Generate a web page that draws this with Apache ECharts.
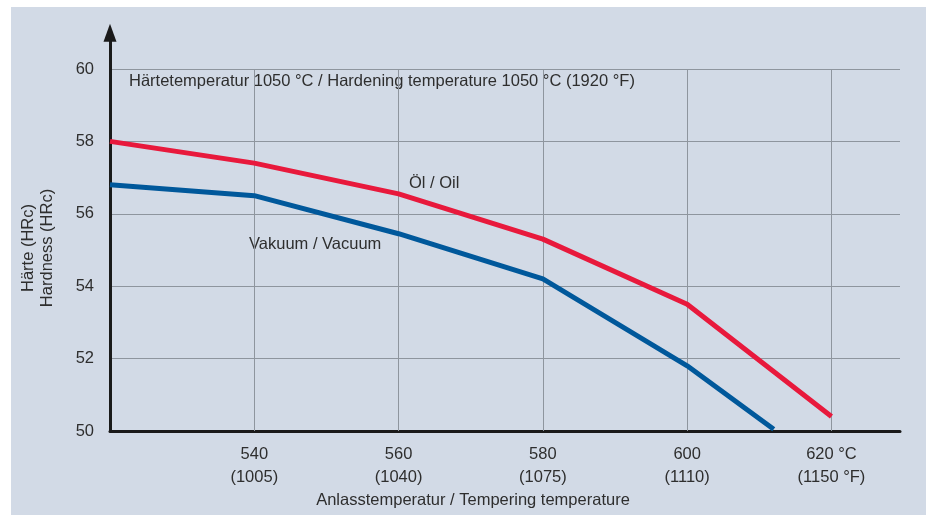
<!DOCTYPE html>
<html>
<head>
<meta charset="utf-8">
<script src="https://cdn.jsdelivr.net/npm/echarts@6/dist/echarts.min.js"></script>
<style>
  html, body { margin: 0; padding: 0; background: #fff; }
  #panel { position: absolute; left: 11px; top: 7px; width: 915px; height: 508px; background: #d2dae6; }
  #main { position: absolute; left: 0; top: 0; width: 931px; height: 515px; }
</style>
</head>
<body>
<div id="panel"></div>
<div id="main"></div>
<script>
// Anlasstemperatur in °C
var oilTemps = [520, 540, 560, 580, 600, 620];
var oilHardness = [58.0, 57.4, 56.55, 55.3, 53.5, 50.4];
var vacuumTemps = [520, 540, 560, 580, 600, 612];
var vacuumHardness = [56.8, 56.5, 55.45, 54.2, 51.8, 50.05];

// Achsbeschriftungen
var xTicks = [540, 560, 580, 600, 620];
var xTickLabels = ['540\n(1005)', '560\n(1040)', '580\n(1075)', '600\n(1110)', '620 °C\n(1150 °F)'];
var yTicks = [50, 52, 54, 56, 58, 60];

function pairs(xs, ys) {
  return xs.map(function (x, i) { return [x, ys[i]]; });
}

var font = 'Liberation Sans';
var fs = 16.5;
var textColor = '#2e2e2e';
var gridColor = '#8e959e';

// senkrechte Gitterlinien nur von 50 bis 60
var vGrid = xTicks.map(function (t) {
  return [{ coord: [t, yTicks[0]] }, { coord: [t, yTicks[yTicks.length - 1]] }];
});

var chart = echarts.init(document.getElementById('main'));

var option = {
  backgroundColor: 'transparent',
  animation: false,
  textStyle: { fontFamily: font, color: textColor },
  grid: { left: 110, right: 31, top: 32.8, bottom: 84 },
  xAxis: {
    type: 'value',
    min: 520,
    max: 629.5,
    interval: 20,
    axisLine: { show: true, lineStyle: { color: '#1a1a1a', width: 3 } },
    axisTick: { show: false },
    splitLine: { show: false },
    axisLabel: {
      margin: 12,
      fontSize: fs,
      lineHeight: 23,
      color: textColor,
      fontFamily: font,
      showMinLabel: false,
      showMaxLabel: false,
      formatter: function (v) {
        var i = xTicks.indexOf(v);
        return i >= 0 ? xTickLabels[i] : '';
      }
    }
  },
  yAxis: {
    type: 'value',
    min: 50,
    max: 61,
    interval: 2,
    axisLine: {
      show: true,
      symbol: ['none', 'triangle'],
      symbolSize: [13, 18],
      lineStyle: { color: '#1a1a1a', width: 3 }
    },
    axisTick: { show: false },
    splitLine: { show: true, showMinLine: false, showMaxLine: false, lineStyle: { color: gridColor, width: 1 } },
    axisLabel: {
      margin: 16,
      fontSize: fs,
      color: textColor,
      fontFamily: font,
      formatter: function (v) { return yTicks.indexOf(v) >= 0 ? String(v) : ''; }
    }
  },
  series: [
    {
      name: 'Öl / Oil',
      type: 'line',
      data: pairs(oilTemps, oilHardness),
      symbol: 'none',
      lineStyle: { color: '#e8193c', width: 5 },
      z: 3,
      markLine: {
        silent: true,
        symbol: ['none', 'none'],
        label: { show: false },
        lineStyle: { color: gridColor, width: 1, type: 'solid' },
        data: vGrid,
        z: 1
      }
    },
    {
      name: 'Vakuum / Vacuum',
      type: 'line',
      data: pairs(vacuumTemps, vacuumHardness),
      symbol: 'none',
      lineStyle: { color: '#00589b', width: 5 },
      z: 3
    }
  ],
  graphic: [
    {
      type: 'text', left: 129, top: 73,
      style: { text: 'Härtetemperatur 1050 °C / Hardening temperature 1050 °C (1920 °F)', font: fs + 'px ' + font, fill: textColor }
    },
    {
      type: 'text', left: 409, top: 175,
      style: { text: 'Öl / Oil', font: fs + 'px ' + font, fill: textColor }
    },
    {
      type: 'text', left: 249, top: 236,
      style: { text: 'Vakuum / Vacuum', font: fs + 'px ' + font, fill: textColor }
    },
    {
      type: 'text', x: 473, y: 500,
      style: { text: 'Anlasstemperatur / Tempering temperature', font: fs + 'px ' + font, fill: textColor, align: 'center', verticalAlign: 'middle' }
    },
    {
      type: 'text', x: 38, y: 248, rotation: Math.PI / 2,
      style: { text: 'Härte (HRc)\nHardness (HRc)', font: fs + 'px ' + font, fill: textColor, align: 'center', verticalAlign: 'middle', lineHeight: 19 }
    }
  ]
};

chart.setOption(option);
</script>
</body>
</html>
